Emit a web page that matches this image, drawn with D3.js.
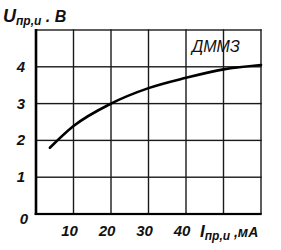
<!DOCTYPE html>
<html><head><meta charset="utf-8">
<script src="https://cdn.jsdelivr.net/npm/d3@7"></script>
<style>
html,body{margin:0;padding:0;background:#fff;}
svg{display:block;}
text{font-family:"Liberation Sans Narrow","Liberation Sans",Arial,sans-serif;font-style:italic;fill:#111;}
</style></head>
<body><svg id="c" width="281" height="250"></svg>
<script>
const currentMA = [3.7, 10, 20, 30, 40, 50, 60];
const voltageV  = [1.8, 2.39, 3.0, 3.42, 3.7, 3.93, 4.05];
const xTicks = [10, 20, 30, 40];
const yTicks = [0, 1, 2, 3, 4];
const xGrid = [10, 20, 30, 40, 50, 60];
const yGrid = [1, 2, 3, 4, 5];
const seriesLabel = "ДММЗ";

const svg = d3.select("#c");
const x = d3.scaleLinear().domain([0, 60]).range([36, 261]);
const y = d3.scaleLinear().domain([0, 5]).range([214, 30]);

const g = svg.append("g");
// grid (as thin filled rects)
g.selectAll("rect.vg").data(xGrid).join("rect").attr("class", "vg")
  .attr("x", d => x(d) - 0.7).attr("width", 1.4)
  .attr("y", y(5) - 0.7).attr("height", y(0) - y(5) + 0.7)
  .attr("fill", "#1a1a1a");
g.selectAll("rect.hg").data(yGrid).join("rect").attr("class", "hg")
  .attr("x", x(0)).attr("width", x(60) - x(0) + 0.7)
  .attr("y", d => y(d) - 0.7).attr("height", 1.4)
  .attr("fill", "#1a1a1a");
// axes
g.append("rect").attr("x", x(0) - 1.3).attr("width", 2.6)
  .attr("y", y(5) - 1).attr("height", y(0) - y(5) + 2).attr("fill", "#000");
g.append("rect").attr("x", x(0) - 1.3).attr("width", x(60) - x(0) + 2)
  .attr("y", y(0) - 1.1).attr("height", 2.2).attr("fill", "#000");

// curve
const curveGen = d3.line().x((d, i) => x(currentMA[i])).y(d => y(d)).curve(d3.curveMonotoneX);
g.append("path").datum(voltageV).attr("d", curveGen)
  .attr("fill", "none").attr("stroke", "#000").attr("stroke-width", 2.6).attr("stroke-linecap", "round");

// tick labels
g.selectAll("text.xt").data(xTicks).join("text").attr("class", "xt")
  .attr("x", d => x(d) - 4).attr("y", 236)
  .attr("text-anchor", "middle").attr("font-size", 15).attr("font-weight", "bold").text(d => d);
g.selectAll("text.yt").data(yTicks).join("text").attr("class", "yt")
  .attr("x", d => d === 0 ? 24 : 21).attr("y", d => y(d) + 5 + (d === 0 ? 5 : 0))
  .attr("text-anchor", "middle").attr("font-size", 15).attr("font-weight", "bold").text(d => d);

// axis titles
const yt = svg.append("text").attr("x", 3).attr("y", 22).attr("font-weight", "bold");
yt.append("tspan").attr("font-size", 18).text("U");
yt.append("tspan").attr("font-size", 12).attr("dy", 3).text("пр,и");
yt.append("tspan").attr("font-size", 16).attr("dy", -3).text(" . В");

const xt = svg.append("text").attr("x", 200).attr("y", 237).attr("font-weight", "bold");
xt.append("tspan").attr("font-size", 17).text("I");
xt.append("tspan").attr("font-size", 12).attr("dy", 3).text("пр,и");
xt.append("tspan").attr("font-size", 14).attr("dy", -3).text(" ,мА");

svg.append("text").attr("x", 192).attr("y", 52).attr("font-size", 16).text(seriesLabel);
</script></body></html>
